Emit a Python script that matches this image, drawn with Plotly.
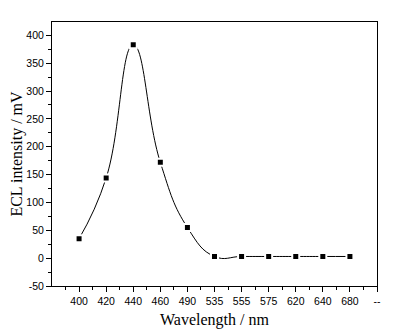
import plotly.graph_objects as go

wavelengths = ["400", "420", "440", "460", "490", "535", "555", "575", "620", "640", "680"]
intensity = [35, 144, 383, 172, 55, 3, 3, 3, 3, 3, 3]
extra_tick = "--"
y_tick_values = [-50, 0, 50, 100, 150, 200, 250, 300, 350, 400]
y_tick_labels = ["-50", "0", "50", "100", "150", "200", "250", "300", "350", "400"]
y_range = [-50, 424]

positions = list(range(1, len(wavelengths) + 1))
x_tickvals = positions + [len(wavelengths) + 1]
x_ticktext = wavelengths + [extra_tick]
x_minor = [p - 0.5 for p in x_tickvals]

fig = go.Figure()
fig.add_trace(go.Scatter(
    x=positions, y=intensity,
    mode="lines+markers",
    line=dict(color="black", width=1, shape="spline", smoothing=1.3),
    marker=dict(symbol="square", size=7, color="black",
                line=dict(color="white", width=2)),
    showlegend=False,
))

tick_font = dict(family="Liberation Sans, Arial", size=10.5, color="black")
title_font = dict(family="Liberation Serif, Times New Roman", size=16, color="black")

# page body has an 8px default margin, so the figure is sized to fit the window
fig.update_layout(
    width=402, height=324,
    margin=dict(l=44, r=33, t=14, b=46),
    paper_bgcolor="white", plot_bgcolor="white",
    xaxis=dict(
        range=[0, len(wavelengths) + 1],
        automargin=False,
        tickmode="array", tickvals=x_tickvals, ticktext=x_ticktext,
        ticks="outside", ticklen=5, tickwidth=1, tickcolor="black",
        minor=dict(tickmode="array", tickvals=x_minor, ticks="outside",
                   ticklen=3, tickwidth=1, tickcolor="black"),
        showline=True, linecolor="black", linewidth=1, mirror=True,
        showgrid=False, zeroline=False,
        tickfont=tick_font,
        title=dict(text="Wavelength / nm", font=title_font, standoff=8),
    ),
    yaxis=dict(
        range=y_range,
        automargin=False,
        tickmode="array", tickvals=y_tick_values, ticktext=y_tick_labels,
        ticks="outside", ticklen=5, tickwidth=1, tickcolor="black",
        minor=dict(dtick=25, tick0=-50, ticks="outside",
                   ticklen=3, tickwidth=1, tickcolor="black"),
        showline=True, linecolor="black", linewidth=1, mirror=True,
        showgrid=False, zeroline=False,
        tickfont=tick_font,
        title=dict(text="ECL intensity / mV", font=title_font, standoff=4),
    ),
)

fig.write_html("out.html")
